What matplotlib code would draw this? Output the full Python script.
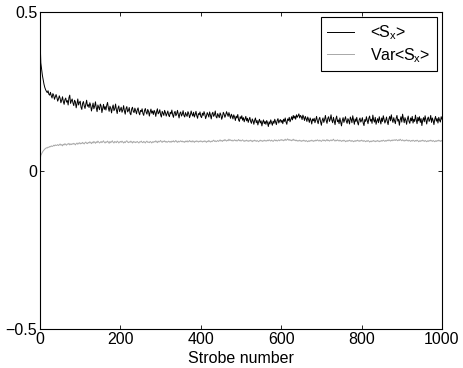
import matplotlib.pyplot as plt

plt.rcParams.update({
    "font.family": ["Liberation Sans", "DejaVu Sans"],
    "font.size": 11.5,
    "mathtext.default": "regular",
    "axes.linewidth": 0.8,
    "xtick.direction": "in",
    "ytick.direction": "in",
    "xtick.top": True,
    "ytick.right": True,
})

strobe = [0, 1] + list(range(2, 1001, 2))

# <S_x>
mean_sx = [
    0.42, 0.38,
    0.34, 0.32, 0.30, 0.285, 0.272, 0.262, 0.255, 0.25, 0.246, 0.252, 0.241, 0.238, 0.247, 0.236, 0.229, 0.243, 0.238, 0.225, 0.232, 0.24,
    0.231, 0.219, 0.226, 0.236, 0.228, 0.214, 0.222, 0.233, 0.218, 0.209, 0.224, 0.229, 0.216, 0.221, 0.207, 0.23, 0.238, 0.212, 0.22, 0.226,
    0.213, 0.205, 0.222, 0.217, 0.198, 0.211, 0.226, 0.207, 0.215, 0.219, 0.2, 0.193, 0.212, 0.218, 0.204, 0.196, 0.21, 0.222, 0.203, 0.208,
    0.199, 0.214, 0.206, 0.188, 0.201, 0.213, 0.195, 0.203, 0.217, 0.198, 0.186, 0.207, 0.2, 0.192, 0.21, 0.204, 0.183, 0.196, 0.209, 0.193,
    0.202, 0.191, 0.206, 0.215, 0.198, 0.187, 0.203, 0.196, 0.182, 0.199, 0.207, 0.189, 0.195, 0.21, 0.192, 0.18, 0.197, 0.204, 0.186, 0.193,
    0.2, 0.184, 0.191, 0.205, 0.188, 0.178, 0.196, 0.202, 0.185, 0.19, 0.199, 0.181, 0.176, 0.194, 0.2, 0.187, 0.183, 0.197, 0.189, 0.179,
    0.192, 0.198, 0.183, 0.176, 0.19, 0.186, 0.195, 0.18, 0.174, 0.189, 0.196, 0.184, 0.178, 0.193, 0.187, 0.172, 0.185, 0.194, 0.181, 0.188,
    0.177, 0.19, 0.184, 0.171, 0.186, 0.195, 0.179, 0.183, 0.192, 0.176, 0.169, 0.187, 0.181, 0.174, 0.19, 0.183, 0.172, 0.18, 0.188, 0.175,
    0.17, 0.184, 0.179, 0.191, 0.176, 0.168, 0.182, 0.187, 0.173, 0.179, 0.19, 0.177, 0.166, 0.181, 0.185, 0.172, 0.178, 0.189, 0.174, 0.169,
    0.183, 0.176, 0.171, 0.186, 0.18, 0.167, 0.175, 0.188, 0.178, 0.172, 0.184, 0.169, 0.177, 0.187, 0.173, 0.165, 0.18, 0.176, 0.185, 0.171,
    0.167, 0.181, 0.174, 0.186, 0.178, 0.164, 0.172, 0.183, 0.177, 0.169, 0.185, 0.175, 0.163, 0.179, 0.184, 0.171, 0.176, 0.188, 0.17, 0.166,
    0.18, 0.173, 0.167, 0.182, 0.176, 0.162, 0.17, 0.184, 0.178, 0.168, 0.175, 0.186, 0.179, 0.171, 0.183, 0.174, 0.165, 0.178, 0.172, 0.163,
    0.176, 0.169, 0.158, 0.172, 0.166, 0.177, 0.16, 0.155, 0.17, 0.164, 0.173, 0.159, 0.167, 0.154, 0.162, 0.171, 0.157, 0.165, 0.152, 0.161,
    0.168, 0.155, 0.149, 0.163, 0.157, 0.146, 0.159, 0.166, 0.151, 0.158, 0.144, 0.155, 0.162, 0.15, 0.157, 0.141, 0.153, 0.16, 0.148, 0.155,
    0.146, 0.158, 0.151, 0.139, 0.154, 0.147, 0.16, 0.152, 0.143, 0.156, 0.149, 0.162, 0.153, 0.145, 0.158, 0.164, 0.15, 0.157, 0.161, 0.152,
    0.159, 0.148, 0.162, 0.155, 0.166, 0.153, 0.146, 0.163, 0.158, 0.168, 0.154, 0.161, 0.17, 0.16, 0.174, 0.165, 0.172, 0.162, 0.176, 0.168,
    0.173, 0.179, 0.166, 0.174, 0.17, 0.161, 0.175, 0.168, 0.158, 0.171, 0.164, 0.155, 0.169, 0.162, 0.152, 0.166, 0.159, 0.147, 0.163, 0.157,
    0.165, 0.151, 0.16, 0.171, 0.156, 0.148, 0.162, 0.168, 0.154, 0.143, 0.159, 0.166, 0.152, 0.161, 0.174, 0.158, 0.149, 0.165, 0.17, 0.155,
    0.162, 0.176, 0.159, 0.151, 0.168, 0.157, 0.145, 0.163, 0.172, 0.154, 0.16, 0.148, 0.166, 0.153, 0.141, 0.158, 0.167, 0.152, 0.161, 0.17,
    0.156, 0.149, 0.164, 0.158, 0.147, 0.169, 0.162, 0.151, 0.173, 0.159, 0.146, 0.163, 0.155, 0.168, 0.152, 0.144, 0.16, 0.166, 0.153, 0.158,
    0.167, 0.15, 0.142, 0.161, 0.155, 0.17, 0.158, 0.148, 0.165, 0.172, 0.156, 0.162, 0.149, 0.175, 0.16, 0.153, 0.168, 0.146, 0.157, 0.164,
    0.151, 0.17, 0.159, 0.147, 0.166, 0.155, 0.173, 0.162, 0.15, 0.158, 0.169, 0.154, 0.145, 0.163, 0.171, 0.157, 0.176, 0.161, 0.152, 0.167,
    0.158, 0.148, 0.165, 0.174, 0.156, 0.162, 0.143, 0.16, 0.17, 0.153, 0.178, 0.164, 0.151, 0.167, 0.159, 0.146, 0.163, 0.172, 0.155, 0.149,
    0.166, 0.157, 0.171, 0.15, 0.162, 0.155, 0.175, 0.16, 0.148, 0.168, 0.157, 0.17, 0.152, 0.164, 0.142, 0.159, 0.167, 0.154, 0.173, 0.16,
    0.147, 0.163, 0.169, 0.155, 0.161, 0.174, 0.152, 0.166, 0.158, 0.145, 0.162, 0.171, 0.156, 0.164, 0.15, 0.168, 0.159, 0.153, 0.17, 0.162,
]

# Var<S_x>
var_sx = [
    0.025, 0.04,
    0.048, 0.053, 0.058, 0.062, 0.065, 0.068, 0.07, 0.072, 0.071, 0.074, 0.073, 0.076, 0.075, 0.078, 0.076, 0.077, 0.08, 0.078, 0.081, 0.079,
    0.08, 0.082, 0.079, 0.081, 0.084, 0.08, 0.082, 0.078, 0.083, 0.081, 0.085, 0.082, 0.08, 0.084, 0.083, 0.086, 0.081, 0.084, 0.082, 0.085,
    0.083, 0.086, 0.084, 0.081, 0.085, 0.087, 0.083, 0.086, 0.088, 0.084, 0.087, 0.085, 0.089, 0.086, 0.084, 0.088, 0.09, 0.086, 0.085, 0.089,
    0.087, 0.091, 0.088, 0.085, 0.09, 0.087, 0.092, 0.089, 0.086, 0.091, 0.088, 0.093, 0.09, 0.087, 0.089, 0.092, 0.088, 0.091, 0.094, 0.089,
    0.087, 0.091, 0.089, 0.093, 0.09, 0.086, 0.092, 0.088, 0.091, 0.094, 0.089, 0.087, 0.092, 0.09, 0.088, 0.093, 0.091, 0.087, 0.09, 0.092,
    0.089, 0.093, 0.09, 0.087, 0.091, 0.088, 0.092, 0.094, 0.09, 0.088, 0.091, 0.089, 0.093, 0.09, 0.087, 0.092, 0.089, 0.091, 0.088, 0.09,
    0.092, 0.089, 0.087, 0.091, 0.09, 0.093, 0.089, 0.088, 0.092, 0.09, 0.087, 0.091, 0.093, 0.089, 0.09, 0.088, 0.092, 0.09, 0.087, 0.091,
    0.089, 0.092, 0.09, 0.094, 0.091, 0.088, 0.093, 0.09, 0.092, 0.095, 0.091, 0.089, 0.093, 0.091, 0.094, 0.09, 0.092, 0.089, 0.091, 0.093,
    0.09, 0.092, 0.089, 0.093, 0.091, 0.094, 0.09, 0.092, 0.095, 0.091, 0.089, 0.093, 0.09, 0.092, 0.094, 0.091, 0.093, 0.09, 0.092, 0.089,
    0.093, 0.091, 0.094, 0.09, 0.092, 0.095, 0.091, 0.093, 0.09, 0.094, 0.092, 0.089, 0.093, 0.091, 0.094, 0.092, 0.09, 0.093, 0.091, 0.094,
    0.092, 0.09, 0.093, 0.091, 0.094, 0.092, 0.089, 0.093, 0.091, 0.095, 0.092, 0.09, 0.093, 0.091, 0.094, 0.096, 0.092, 0.094, 0.091, 0.093,
    0.095, 0.092, 0.094, 0.097, 0.093, 0.095, 0.092, 0.096, 0.094, 0.098, 0.095, 0.093, 0.096, 0.094, 0.099, 0.095, 0.097, 0.094, 0.096, 0.093,
    0.095, 0.097, 0.094, 0.096, 0.093, 0.095, 0.098, 0.094, 0.096, 0.093, 0.095, 0.097, 0.094, 0.092, 0.095, 0.093, 0.096, 0.094, 0.092, 0.095,
    0.093, 0.096, 0.094, 0.091, 0.095, 0.093, 0.096, 0.094, 0.092, 0.095, 0.093, 0.091, 0.094, 0.096, 0.093, 0.095, 0.092, 0.094, 0.096, 0.093,
    0.095, 0.093, 0.096, 0.094, 0.097, 0.095, 0.093, 0.096, 0.094, 0.092, 0.095, 0.097, 0.094, 0.096, 0.093, 0.095, 0.097, 0.094, 0.096, 0.098,
    0.095, 0.097, 0.094, 0.096, 0.099, 0.095, 0.097, 0.1, 0.096, 0.098, 0.095, 0.097, 0.094, 0.096, 0.099, 0.095, 0.097, 0.094, 0.096, 0.093,
    0.095, 0.093, 0.096, 0.094, 0.092, 0.095, 0.093, 0.096, 0.094, 0.092, 0.095, 0.093, 0.091, 0.094, 0.092, 0.095, 0.093, 0.096, 0.094, 0.092,
    0.095, 0.093, 0.096, 0.094, 0.097, 0.095, 0.093, 0.096, 0.094, 0.092, 0.095, 0.097, 0.094, 0.096, 0.093, 0.095, 0.098, 0.094, 0.096, 0.093,
    0.095, 0.097, 0.094, 0.096, 0.099, 0.095, 0.093, 0.096, 0.094, 0.097, 0.095, 0.093, 0.096, 0.094, 0.092, 0.095, 0.093, 0.096, 0.094, 0.091,
    0.094, 0.092, 0.095, 0.093, 0.096, 0.094, 0.092, 0.095, 0.093, 0.091, 0.094, 0.092, 0.095, 0.093, 0.096, 0.094, 0.092, 0.095, 0.093, 0.096,
    0.094, 0.092, 0.095, 0.093, 0.091, 0.094, 0.092, 0.095, 0.093, 0.09, 0.093, 0.091, 0.094, 0.092, 0.095, 0.093, 0.091, 0.094, 0.092, 0.095,
    0.093, 0.091, 0.094, 0.092, 0.095, 0.093, 0.096, 0.094, 0.092, 0.095, 0.093, 0.096, 0.094, 0.097, 0.095, 0.093, 0.096, 0.094, 0.097, 0.095,
    0.097, 0.095, 0.098, 0.096, 0.094, 0.097, 0.095, 0.099, 0.096, 0.094, 0.097, 0.095, 0.093, 0.096, 0.094, 0.097, 0.095, 0.093, 0.096, 0.094,
    0.092, 0.095, 0.093, 0.096, 0.094, 0.092, 0.095, 0.093, 0.096, 0.094, 0.091, 0.094, 0.092, 0.095, 0.093, 0.096, 0.094, 0.092, 0.095, 0.093,
    0.091, 0.094, 0.092, 0.095, 0.093, 0.096, 0.094, 0.092, 0.095, 0.093, 0.091, 0.094, 0.092, 0.095, 0.093, 0.096, 0.094, 0.092, 0.095, 0.093,
]

labels = ["<S$_x$>", "Var<S$_x$>"]

fig = plt.figure(figsize=(4.63, 3.68), dpi=100)
ax = fig.add_axes([0.0864, 0.106, 0.8682, 0.861])

ax.plot(strobe, mean_sx, color="black", lw=0.7, label=labels[0])
ax.plot(strobe, var_sx, color="#a8a8a8", lw=0.7, label=labels[1])

ax.set_xlim(0, 1000)
ax.set_ylim(-0.5, 0.5)
ax.set_xticks([0, 200, 400, 600, 800, 1000])
ax.set_yticks([-0.5, 0, 0.5])
ax.set_yticklabels(["\u22120.5", "0", "0.5"])
ax.tick_params(length=3, width=0.6, pad=2)
ax.set_xlabel("Strobe number", labelpad=3)

leg = ax.legend(loc="upper right", fancybox=False, edgecolor="black",
                framealpha=1, handlelength=1.7, handletextpad=1.0,
                borderaxespad=0.3, labelspacing=0.25, borderpad=0.4)
leg.get_frame().set_linewidth(0.8)

fig.savefig("out.png", dpi=100)
